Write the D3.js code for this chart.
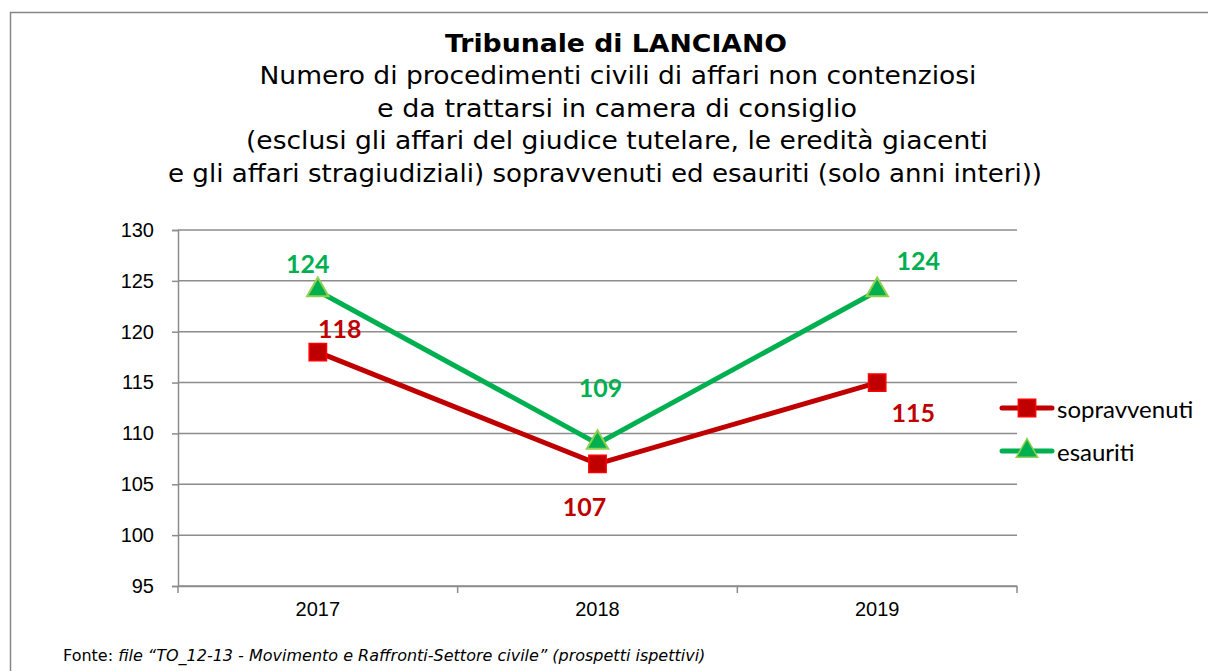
<!DOCTYPE html>
<html><head><meta charset="utf-8">
<script src="https://cdn.jsdelivr.net/npm/d3@7"></script>
<style>body{margin:0;background:#fff}svg{display:block}</style>
</head><body>
<svg id="c" width="1208" height="671"></svg>
<script>
const categories = ["2017","2018","2019"];
const sopravvenuti = [118,107,115];
const esauriti = [124,109,124];
const yTicks = [95,100,105,110,115,120,125,130];
const seriesNames = ["sopravvenuti","esauriti"];
const titleLines = ["Numero di procedimenti civili di affari non contenziosi","e da trattarsi in camera di consiglio","(esclusi gli affari del giudice tutelare, le eredità giacenti","e gli affari stragiudiziali) sopravvenuti ed esauriti (solo anni interi))"];

const svg = d3.select("#c");
svg.append("rect").attr("x",10.5).attr("y",12.5).attr("width",1220).attr("height",680).attr("fill","#fff").attr("stroke","#868686").attr("stroke-width",1.5);

const titleFont = "Verdana, 'DejaVu Sans', sans-serif";
svg.append("text").attr("x",616).attr("y",52).attr("text-anchor","middle").attr("font-family",titleFont).attr("font-weight","bold").style("font-size","24px").attr("textLength",342).attr("lengthAdjust","spacingAndGlyphs").text("Tribunale di LANCIANO");
const lineW = [717,480,742,874];
const lineC = [618,617,617,605];
titleLines.forEach((t,i)=>{
  svg.append("text").attr("x",lineC[i]).attr("y",84+i*32.5).attr("text-anchor","middle").attr("font-family",titleFont).style("font-size","24px").attr("textLength",lineW[i]).attr("lengthAdjust","spacingAndGlyphs").text(t);
});

const x = d3.scaleBand().domain(categories).range([178,1017]);
const y = d3.scaleLinear().domain([95,130]).range([586,230]);

const g = svg.append("g");
g.selectAll("line.grid").data(yTicks).join("line").attr("x1",178).attr("x2",1017).attr("y1",d=>y(d)).attr("y2",d=>y(d)).attr("stroke","#8c8c8c").attr("stroke-width",1.5);

const axFont = "Arial, 'Liberation Sans', sans-serif";
const yAxis = g.append("g").attr("transform","translate(178,0)").call(d3.axisLeft(y).tickValues(yTicks).tickSize(6).tickPadding(8));
yAxis.attr("font-size",null).attr("font-family",null);
yAxis.select(".domain").attr("stroke","#8c8c8c").attr("stroke-width",1.5);
yAxis.selectAll(".tick line").attr("stroke","#8c8c8c").attr("stroke-width",1.5);
yAxis.selectAll("text").attr("font-family",axFont).style("font-size","20px").attr("fill","#000").attr("x",-24);

const xAxis = g.append("g").attr("transform","translate(0,586)").call(d3.axisBottom(x).tickSize(0).tickPadding(16));
xAxis.attr("font-size",null).attr("font-family",null);
xAxis.select(".domain").attr("stroke","#8c8c8c").attr("stroke-width",1.5);
xAxis.selectAll("text").attr("font-family",axFont).style("font-size","20px").attr("fill","#000");
const bounds = [178, ...categories.map(c=>x(c)+x.bandwidth())];
g.selectAll("line.xt").data(bounds).join("line").attr("x1",d=>d).attr("x2",d=>d).attr("y1",586).attr("y2",593).attr("stroke","#8c8c8c").attr("stroke-width",1.5);

const cx = c => x(c)+x.bandwidth()/2;
const line = d3.line().x((d,i)=>cx(categories[i])).y(d=>y(d));
const red = "#C00000", green = "#00B050";

g.append("path").datum(esauriti).attr("d",line).attr("fill","none").attr("stroke",green).attr("stroke-width",5);
g.append("path").datum(sopravvenuti).attr("d",line).attr("fill","none").attr("stroke",red).attr("stroke-width",5);

const sq = d3.symbol().type(d3.symbolSquare).size(300);
const tri = d3.symbol().type(d3.symbolTriangle).size(200);
g.selectAll("path.sq").data(sopravvenuti).join("path").attr("transform",(d,i)=>`translate(${cx(categories[i])},${y(d)})`).attr("d",sq).attr("fill",red).attr("stroke","#FF0000").attr("stroke-width",1.5);
g.selectAll("path.tri").data(esauriti).join("path").attr("transform",(d,i)=>`translate(${cx(categories[i])},${y(d)-1})`).attr("d",tri).attr("fill",green).attr("stroke","#92D050").attr("stroke-width",2);

const labFont = "Lato, Carlito, 'Open Sans', sans-serif";
const redOff = [[22,-24],[-13,42],[36,29]];
const greenOff = [[-10,-28],[3,-57],[41,-31]];
sopravvenuti.forEach((d,i)=>{
  svg.append("text").attr("x",cx(categories[i])+redOff[i][0]).attr("y",y(d)+redOff[i][1]).attr("text-anchor","middle").attr("dominant-baseline","central").attr("font-family",labFont).attr("font-weight","bold").style("font-size","25px").attr("fill",red).text(d);
});
esauriti.forEach((d,i)=>{
  svg.append("text").attr("x",cx(categories[i])+greenOff[i][0]).attr("y",y(d)+greenOff[i][1]).attr("text-anchor","middle").attr("dominant-baseline","central").attr("font-family",labFont).attr("font-weight","bold").style("font-size","25px").attr("fill",green).text(d);
});

const leg = [{n:seriesNames[0],c:red,sym:sq,f:red,s:"#FF0000",y:408},{n:seriesNames[1],c:green,sym:tri,f:green,s:"#92D050",y:451}];
leg.forEach(l=>{
  svg.append("line").attr("x1",1002).attr("x2",1052).attr("y1",l.y).attr("y2",l.y).attr("stroke",l.c).attr("stroke-width",5).attr("stroke-linecap","round");
  svg.append("path").attr("transform",`translate(1027,${l.y})`).attr("d",l.sym).attr("fill",l.f).attr("stroke",l.s).attr("stroke-width",1.5);
  svg.append("text").attr("x",1057).attr("y",l.y).attr("dominant-baseline","central").attr("font-family",labFont).style("font-size","24px").attr("fill","#000").text(l.n);
});

const ft = svg.append("text").attr("x",63).attr("y",661).attr("font-family",titleFont).style("font-size","16px").attr("fill","#000");
ft.append("tspan").text("Fonte: ");
ft.append("tspan").attr("font-style","italic").text("file \u201CTO_12-13 - Movimento e Raffronti-Settore civile\u201D (prospetti ispettivi)");
</script>
</body></html>
